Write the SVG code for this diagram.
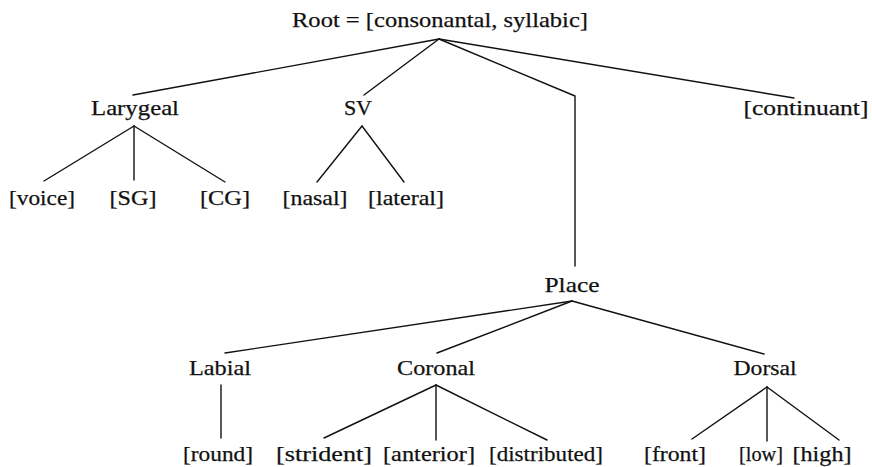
<svg xmlns="http://www.w3.org/2000/svg" width="872" height="467" viewBox="0 0 872 467">
<style>
text{font-family:"Liberation Serif","Times New Roman",serif;font-size:22px;fill:#111;stroke:#111;stroke-width:0.25;text-anchor:middle}
.e{stroke:#111;stroke-width:1.4;fill:none;stroke-linecap:round;stroke-linejoin:round}
</style>
<rect width="872" height="467" fill="#fff"/>
<g id="connectors" class="e">
<path d="M439,39L133,95"/><path d="M439,39L364,95"/><path d="M439,39L575,96L575,266"/><path d="M439,39L794,98"/>
<path d="M134,126L44,181"/><path d="M134,126L134,180"/><path d="M134,126L225,182"/>
<path d="M362,126L317,182"/><path d="M362,126L404,182"/>
<path d="M572,301L225,353"/><path d="M572,301L437,353"/><path d="M572,301L764,354"/>
<path d="M221,385L221,438"/>
<path d="M436,385L324,438"/><path d="M436,385L436,440"/><path d="M436,385L547,440"/>
<path d="M767,387L692,439"/><path d="M767,387L767,441"/><path d="M767,387L839,440"/>
</g>
<g id="root"><text x="440" y="27" textLength="296" lengthAdjust="spacingAndGlyphs">Root = [consonantal, syllabic]</text></g>
<g id="larygeal"><text x="135" y="115" textLength="88" lengthAdjust="spacingAndGlyphs">Larygeal</text></g>
<g id="sv"><text x="358" y="115" textLength="28" lengthAdjust="spacing">SV</text></g>
<g id="continuant"><text x="806" y="115" textLength="125" lengthAdjust="spacingAndGlyphs">[continuant]</text></g>
<g id="voice"><text x="42" y="205" textLength="66" lengthAdjust="spacingAndGlyphs">[voice]</text></g>
<g id="sg"><text x="133" y="205" textLength="47" lengthAdjust="spacingAndGlyphs">[SG]</text></g>
<g id="cg"><text x="225" y="205" textLength="50" lengthAdjust="spacingAndGlyphs">[CG]</text></g>
<g id="nasal"><text x="315" y="205" textLength="65" lengthAdjust="spacingAndGlyphs">[nasal]</text></g>
<g id="lateral"><text x="406" y="205" textLength="76" lengthAdjust="spacingAndGlyphs">[lateral]</text></g>
<g id="place"><text x="572" y="292" textLength="55" lengthAdjust="spacingAndGlyphs">Place</text></g>
<g id="labial"><text x="220" y="375" textLength="62" lengthAdjust="spacingAndGlyphs">Labial</text></g>
<g id="coronal"><text x="436" y="375" textLength="78" lengthAdjust="spacingAndGlyphs">Coronal</text></g>
<g id="dorsal"><text x="765" y="375" textLength="63" lengthAdjust="spacingAndGlyphs">Dorsal</text></g>
<g id="round"><text x="218" y="461" textLength="70" lengthAdjust="spacingAndGlyphs">[round]</text></g>
<g id="strident"><text x="324" y="461" textLength="96" lengthAdjust="spacingAndGlyphs">[strident]</text></g>
<g id="anterior"><text x="429" y="461" textLength="92" lengthAdjust="spacingAndGlyphs">[anterior]</text></g>
<g id="distributed"><text x="546" y="461" textLength="114" lengthAdjust="spacingAndGlyphs">[distributed]</text></g>
<g id="front"><text x="675" y="461" textLength="62" lengthAdjust="spacingAndGlyphs">[front]</text></g>
<g id="low"><text x="761" y="461" textLength="44" lengthAdjust="spacingAndGlyphs">[low]</text></g>
<g id="high"><text x="822" y="461" textLength="59" lengthAdjust="spacingAndGlyphs">[high]</text></g>
</svg>
